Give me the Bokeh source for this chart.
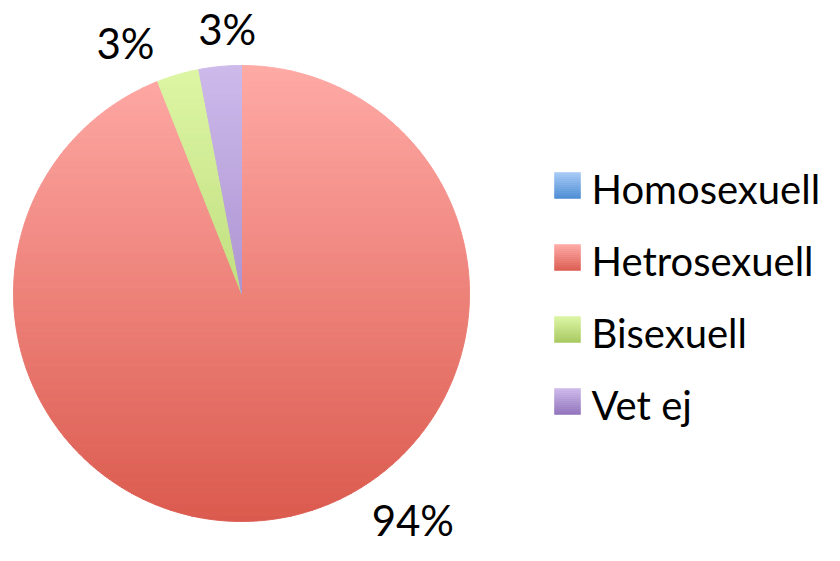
import numpy as np
from bokeh.plotting import figure
from bokeh.models import Range1d
from bokeh.embed import file_html
from bokeh.resources import INLINE
from bokeh.core.properties import value

# ---- data ----
categories = ["Homosexuell", "Hetrosexuell", "Bisexuell", "Vet ej"]
shares = [0, 94, 3, 3]
labels = ["0%", "94%", "3%", "3%"]

# ---- style ----
top_colors = ["#A7CAF7", "#FFAAA6", "#DDF6A5", "#CDBAEB"]
bottom_colors = ["#4A8BD3", "#DB5A4E", "#A6C85C", "#8F70BA"]
label_nudge = [(0, 0), (123, 27), (-44, 3), (10, 8)]
FONT = "Lato"
FS_LABEL = "42px"
FS_LEGEND = "40px"

W, H = 824, 545
p = figure(width=W, height=H, x_range=Range1d(0, W), y_range=Range1d(561 - H, 561),
           output_backend="svg", toolbar_location=None, min_border=0)
p.axis.visible = False
p.grid.visible = False
p.outline_line_color = None
p.background_fill_color = "white"
p.border_fill_color = "white"

cx, cy, R = 241.0, 268.0, 228.0


def hex2rgb(h):
    h = h.lstrip("#")
    return np.array([int(h[i:i + 2], 16) for i in (0, 2, 4)], dtype=float)


def mix(c0, c1, t):
    a, b = hex2rgb(c0), hex2rgb(c1)
    c = a * (1 - t) + b * t
    return "#%02x%02x%02x" % tuple(int(round(v)) for v in c)


def inter(a, b, y):
    t = (y - a[1]) / (b[1] - a[1])
    return (a[0] + t * (b[0] - a[0]), y)


def clip(poly, y, above):
    out = []
    n = len(poly)
    for i in range(n):
        cur, prev = poly[i], poly[i - 1]
        cin = cur[1] >= y if above else cur[1] <= y
        pin = prev[1] >= y if above else prev[1] <= y
        if cin:
            if not pin:
                out.append(inter(prev, cur, y))
            out.append(cur)
        elif pin:
            out.append(inter(prev, cur, y))
    return out


total = float(sum(shares))
cum = np.concatenate([[0], np.cumsum(shares)]) / total
NSTRIP = 80
edges = np.linspace(cy + R, cy - R, NSTRIP + 1)

xs, ys, cols = [], [], []
for i, cat in enumerate(categories):
    if shares[i] <= 0:
        continue
    a0 = np.pi / 2 - 2 * np.pi * cum[i]
    a1 = np.pi / 2 - 2 * np.pi * cum[i + 1]
    n = max(4, int(abs(a1 - a0) * 180 / np.pi * 2))
    th = np.linspace(a0, a1, n)
    poly = [(cx, cy)] + [(cx + R * np.cos(t), cy + R * np.sin(t)) for t in th]
    for k in range(NSTRIP):
        yt, yb = edges[k], edges[k + 1]
        pc = clip(poly, yb, True)
        if len(pc) < 3:
            continue
        pc = clip(pc, yt, False)
        if len(pc) < 3:
            continue
        xs.append([q[0] for q in pc])
        ys.append([q[1] for q in pc])
        cols.append(mix(top_colors[i], bottom_colors[i], (k + 0.5) / NSTRIP))

p.patches(xs, ys, fill_color=cols, line_color=cols, line_width=1)

# ---- percent labels ----
lx, ly, lt = [], [], []
for i, cat in enumerate(categories):
    if shares[i] <= 0:
        continue
    mid = np.pi / 2 - 2 * np.pi * (cum[i] + cum[i + 1]) / 2
    r = R + 30
    lx.append(cx + r * np.cos(mid) + label_nudge[i][0])
    ly.append(cy + r * np.sin(mid) + label_nudge[i][1])
    lt.append(labels[i])
p.text(lx, ly, text=lt, text_font=value(FONT), text_font_size=FS_LABEL, text_color="#000000",
       text_align="center", text_baseline="middle")

# ---- legend ----
sq_left, sq_size = 554, 26
leg_top = 561 - 172
step = 72
ql, qr, qt, qb, qc = [], [], [], [], []
NS = 13
for i, cat in enumerate(categories):
    top = leg_top - step * i
    for k in range(NS):
        t0 = top - sq_size * k / NS
        t1 = top - sq_size * (k + 1) / NS
        ql.append(sq_left); qr.append(sq_left + sq_size)
        qt.append(t0); qb.append(t1)
        qc.append(mix(top_colors[i], bottom_colors[i], (k + 0.5) / NS))
p.quad(left=ql, right=qr, top=qt, bottom=qb, fill_color=qc, line_color=qc, line_width=0.5)

tx = [591] * len(categories)
ty = [561 - 188 - step * i for i in range(len(categories))]
p.text(tx, ty, text=categories, text_font=value(FONT), text_font_size=FS_LEGEND, text_color="#000000",
       text_align="left", text_baseline="middle")

open("out.html", "w").write(file_html(p, INLINE))
